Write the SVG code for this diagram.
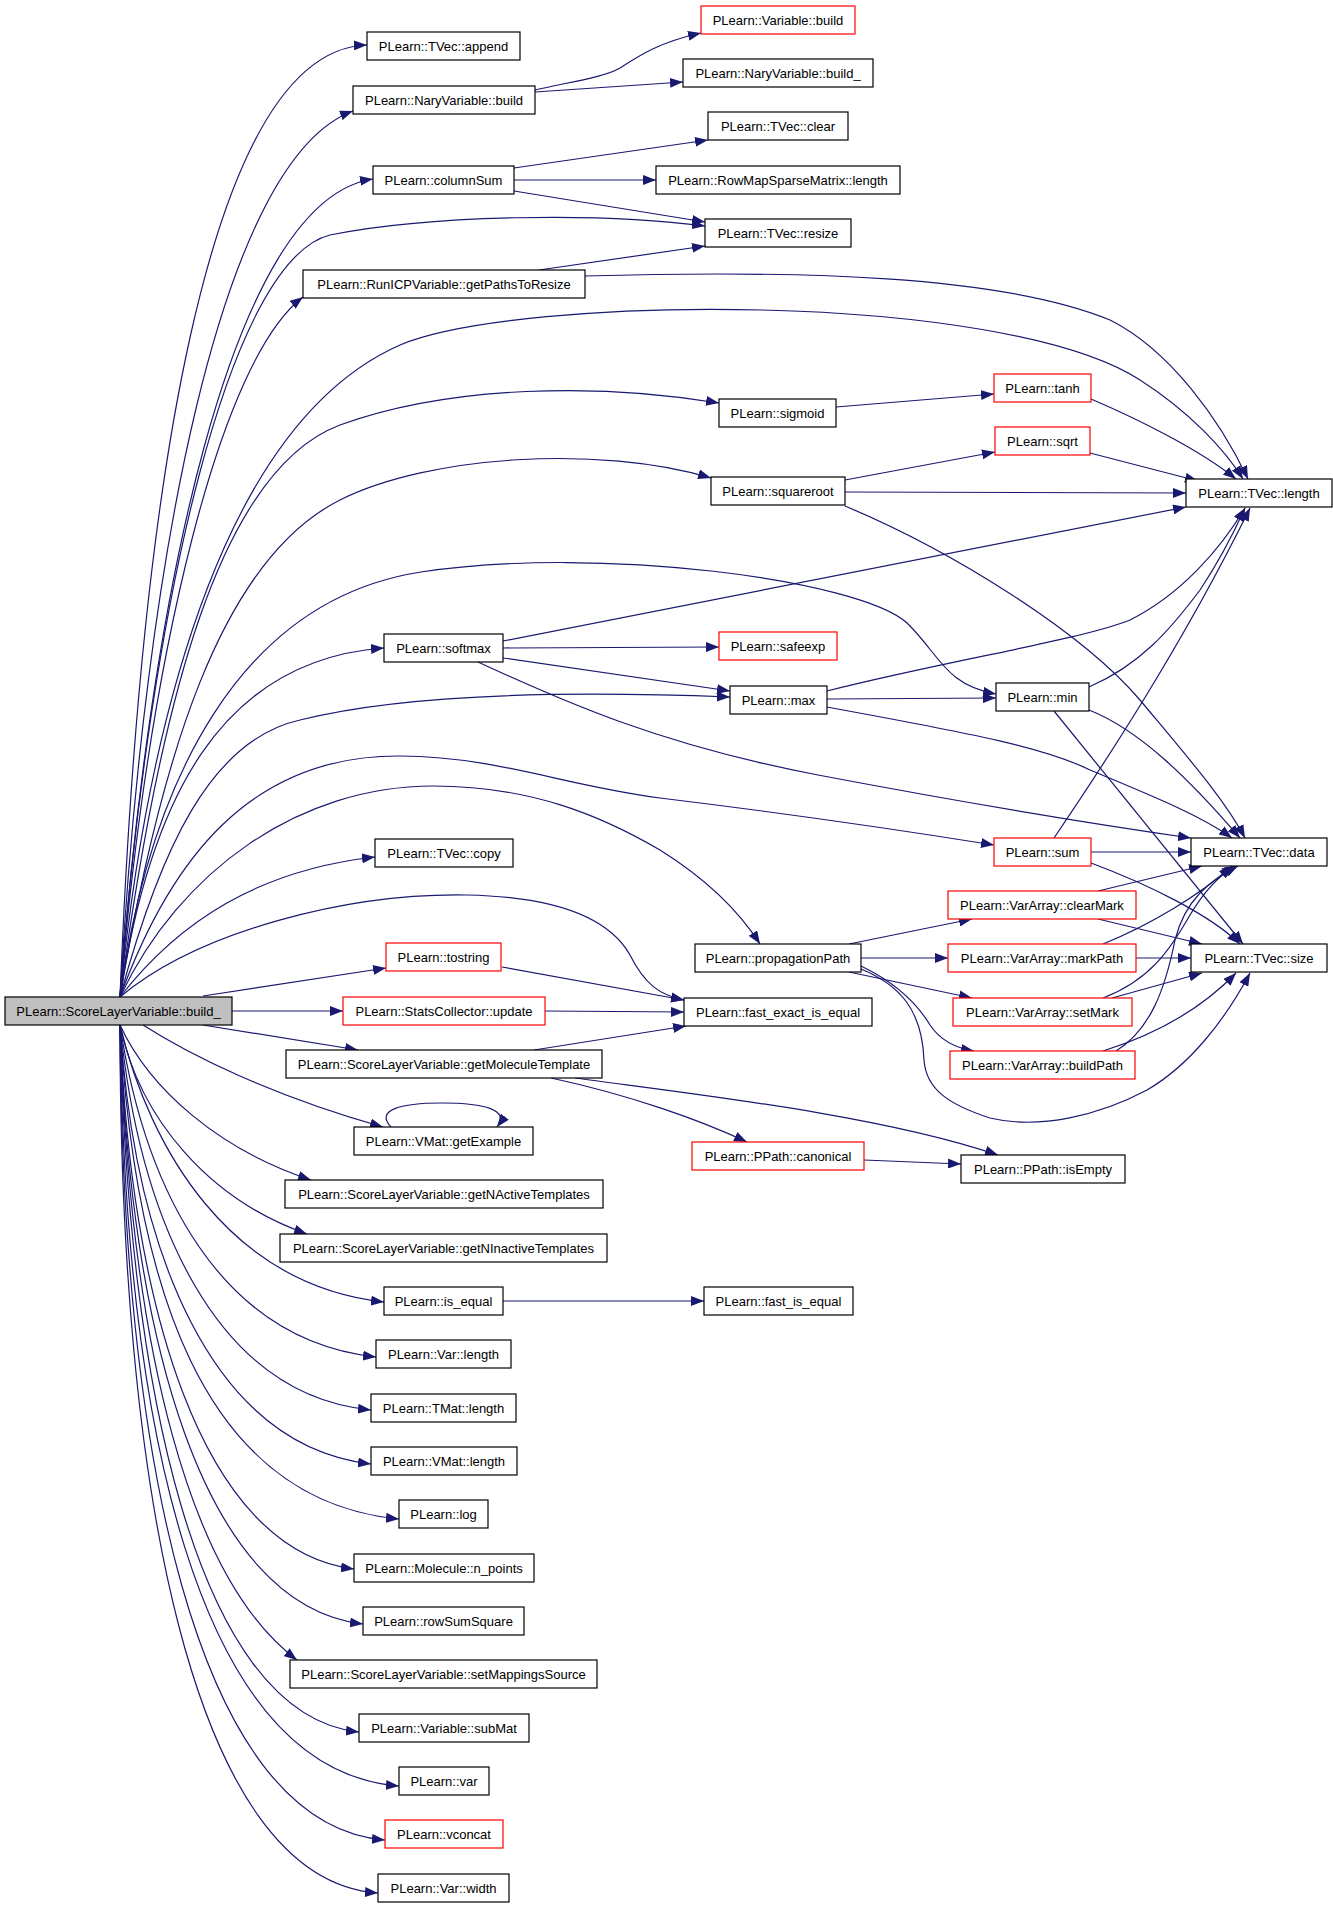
<svg xmlns="http://www.w3.org/2000/svg" width="1333" height="1908" viewBox="0 0 1333 1908">
<style>
.n rect{fill:#fff;stroke:#000;stroke-width:1.2}
.n.r rect{stroke:#f00}
.n.root rect{fill:#bfbfbf}
text{font-family:"Liberation Sans",Arial,sans-serif;font-size:13px;text-anchor:middle;fill:#000}
.e path{fill:none;stroke:#191970;stroke-width:1.2;marker-end:url(#a)}
</style>
<defs>
<marker id="a" markerUnits="userSpaceOnUse" markerWidth="14" markerHeight="10" refX="13" refY="5" orient="auto" viewBox="0 0 14 10"><path d="M0,0 L13,5 L0,10 z" fill="#191970"/></marker>
</defs>
<rect width="1333" height="1908" fill="#fff"/>
<g class="e" id="edges">
<path d="M120,997 C140,500 205,50 367,45"/>
<path d="M120,997 C145,560 220,160 353,111"/>
<path d="M120,997 C150,600 230,200 373,179"/>
<path d="M120,997 C150,600 230,260 330,235 C430,215 600,212 705,226"/>
<path d="M120,997 C150,650 220,360 303,297"/>
<path d="M120,997 C150,700 230,420 400,345 C520,295 1000,290 1140,380 C1190,412 1225,450 1243,479"/>
<path d="M120,997 C160,700 220,470 340,425 C450,385 600,383 719,403"/>
<path d="M120,997 C160,760 220,560 340,500 C430,455 600,445 711,478"/>
<path d="M120,997 C150,800 220,660 384,648"/>
<path d="M120,997 C150,780 240,600 421,572 C600,545 860,580 907,623 C940,655 945,685 996,694"/>
<path d="M120,997 C160,850 210,740 300,720 C400,695 550,690 730,697"/>
<path d="M120,997 C170,860 250,755 400,756 C500,757 560,785 660,798 C800,815 900,830 994,845"/>
<path d="M120,997 C180,870 300,786 433,786 C530,786 600,815 660,850 C700,875 735,905 760,944"/>
<path d="M120,997 C200,930 350,893 467,895 C560,897 610,920 630,955 C645,985 660,995 684,1000"/>
<path d="M120,997 C180,920 260,870 375,857"/>
<path d="M203,996 L386,968"/>
<path d="M232,1011 L343,1011"/>
<path d="M203,1025 L358,1050"/>
<path d="M143,1025 C190,1055 270,1095 383,1127"/>
<path d="M120,1025 C150,1090 220,1150 311,1180"/>
<path d="M120,1025 C140,1120 210,1200 307,1234"/>
<path d="M120,1025 C150,1150 230,1285 384,1302"/>
<path d="M120,1025 C145,1190 220,1340 376,1357"/>
<path d="M120,1025 C140,1220 215,1395 371,1410"/>
<path d="M120,1025 C135,1250 210,1445 371,1464"/>
<path d="M120,1025 C135,1280 200,1500 399,1519"/>
<path d="M120,1025 C130,1300 200,1550 354,1569"/>
<path d="M120,1025 C130,1330 200,1605 363,1624"/>
<path d="M120,1025 C130,1350 190,1580 297,1660"/>
<path d="M120,1025 C128,1380 195,1715 359,1732"/>
<path d="M120,1025 C125,1420 195,1770 399,1786"/>
<path d="M120,1025 C122,1450 195,1825 385,1840"/>
<path d="M120,1025 C120,1480 190,1880 378,1893"/>
<path d="M535,90 C570,82 605,77 620,68 C640,55 660,42 701,33"/>
<path d="M535,92 L683,82"/>
<path d="M514,168 L708,140"/>
<path d="M514,180 L656,180"/>
<path d="M514,191 L705,222"/>
<path d="M539,270 L705,246"/>
<path d="M585,276 C800,270 1000,275 1110,320 C1170,350 1220,420 1248,479"/>
<path d="M836,407 L994,394"/>
<path d="M1091,399 C1140,420 1200,450 1236,479"/>
<path d="M845,480 L995,452"/>
<path d="M1090,453 L1198,481"/>
<path d="M845,492 L1186,493"/>
<path d="M845,506 C950,550 1080,630 1140,700 C1190,760 1225,800 1245,838"/>
<path d="M503,641 L1186,507"/>
<path d="M503,648 L719,647"/>
<path d="M503,658 L730,691"/>
<path d="M478,662 C560,700 660,745 818,775 C950,800 1100,825 1191,838"/>
<path d="M827,691 C950,660 1080,640 1130,620 C1180,595 1220,550 1245,508"/>
<path d="M827,699 L996,698"/>
<path d="M827,707 C950,730 1040,745 1090,770 C1150,795 1200,815 1232,838"/>
<path d="M1089,687 C1140,665 1170,630 1200,590 C1220,560 1235,530 1245,508"/>
<path d="M1089,710 C1140,730 1190,780 1240,838"/>
<path d="M1054,711 L1243,944"/>
<path d="M1054,838 C1100,770 1180,650 1250,508"/>
<path d="M1091,852 L1191,852"/>
<path d="M1091,863 C1150,885 1210,915 1240,944"/>
<path d="M1098,891 L1202,866"/>
<path d="M1098,919 L1202,944"/>
<path d="M849,944 L972,919"/>
<path d="M861,958 L948,958"/>
<path d="M849,972 L972,998"/>
<path d="M861,966 C890,980 915,1000 930,1025 C940,1040 955,1048 974,1051"/>
<path d="M861,969 C900,985 922,1010 924,1060 C926,1090 950,1105 990,1118 C1040,1130 1100,1115 1147,1090 C1190,1065 1225,1020 1250,973"/>
<path d="M1136,958 L1191,958"/>
<path d="M1103,944 C1150,925 1200,895 1232,866"/>
<path d="M1103,998 C1150,980 1170,950 1190,915 C1205,890 1220,875 1235,866"/>
<path d="M1112,998 L1202,973"/>
<path d="M1116,1051 C1150,1030 1165,990 1175,940 C1185,900 1210,880 1238,866"/>
<path d="M1103,1051 C1170,1030 1210,1000 1236,973"/>
<path d="M534,1050 L686,1026"/>
<path d="M551,1078 C630,1095 700,1120 747,1142"/>
<path d="M575,1078 C700,1095 880,1115 998,1155"/>
<path d="M864,1160 L961,1164"/>
<path d="M502,967 L684,1000"/>
<path d="M545,1011 L684,1012"/>
<path d="M391,1127 C375,1110 400,1103 442,1103 C485,1103 510,1110 497,1127"/>
<path d="M503,1301 L704,1301"/>
</g>
<g id="root" class="n root"><rect x="5" y="997" width="227" height="28"/><text x="118.5" y="1015.5">PLearn::ScoreLayerVariable::build_</text></g>
<g id="append" class="n"><rect x="367" y="32" width="153" height="28"/><text x="443.5" y="50.5">PLearn::TVec::append</text></g>
<g id="narybuild" class="n"><rect x="353" y="86" width="182" height="28"/><text x="444" y="104.5">PLearn::NaryVariable::build</text></g>
<g id="varbuild" class="n r"><rect x="701" y="6" width="154" height="28"/><text x="778" y="24.5">PLearn::Variable::build</text></g>
<g id="narybuild_" class="n"><rect x="683" y="59" width="190" height="28"/><text x="778" y="77.5">PLearn::NaryVariable::build_</text></g>
<g id="clear" class="n"><rect x="708" y="112" width="140" height="28"/><text x="778" y="130.5">PLearn::TVec::clear</text></g>
<g id="columnsum" class="n"><rect x="373" y="166" width="141" height="28"/><text x="443.5" y="184.5">PLearn::columnSum</text></g>
<g id="rowmap" class="n"><rect x="656" y="166" width="244" height="28"/><text x="778" y="184.5">PLearn::RowMapSparseMatrix::length</text></g>
<g id="resize" class="n"><rect x="705" y="219" width="146" height="28"/><text x="778" y="237.5">PLearn::TVec::resize</text></g>
<g id="runicp" class="n"><rect x="303" y="270" width="282" height="28"/><text x="444" y="288.5">PLearn::RunICPVariable::getPathsToResize</text></g>
<g id="tanh" class="n r"><rect x="994" y="374" width="97" height="28"/><text x="1042.5" y="392.5">PLearn::tanh</text></g>
<g id="sigmoid" class="n"><rect x="719" y="399" width="117" height="28"/><text x="777.5" y="417.5">PLearn::sigmoid</text></g>
<g id="sqrt" class="n r"><rect x="995" y="427" width="95" height="28"/><text x="1042.5" y="445.5">PLearn::sqrt</text></g>
<g id="squareroot" class="n"><rect x="711" y="477" width="134" height="28"/><text x="778" y="495.5">PLearn::squareroot</text></g>
<g id="tveclength" class="n"><rect x="1186" y="479" width="146" height="28"/><text x="1259" y="497.5">PLearn::TVec::length</text></g>
<g id="softmax" class="n"><rect x="384" y="634" width="119" height="28"/><text x="443.5" y="652.5">PLearn::softmax</text></g>
<g id="safeexp" class="n r"><rect x="719" y="632" width="118" height="28"/><text x="778" y="650.5">PLearn::safeexp</text></g>
<g id="max" class="n"><rect x="730" y="686" width="97" height="28"/><text x="778.5" y="704.5">PLearn::max</text></g>
<g id="min" class="n"><rect x="996" y="683" width="93" height="28"/><text x="1042.5" y="701.5">PLearn::min</text></g>
<g id="sum" class="n r"><rect x="994" y="838" width="97" height="28"/><text x="1042.5" y="856.5">PLearn::sum</text></g>
<g id="tvecdata" class="n"><rect x="1191" y="838" width="136" height="28"/><text x="1259" y="856.5">PLearn::TVec::data</text></g>
<g id="copy" class="n"><rect x="375" y="839" width="138" height="28"/><text x="444" y="857.5">PLearn::TVec::copy</text></g>
<g id="clearmark" class="n r"><rect x="948" y="891" width="188" height="28"/><text x="1042" y="909.5">PLearn::VarArray::clearMark</text></g>
<g id="tostring" class="n r"><rect x="386" y="943" width="115" height="28"/><text x="443.5" y="961.5">PLearn::tostring</text></g>
<g id="propagationpath" class="n"><rect x="695" y="944" width="166" height="28"/><text x="778" y="962.5">PLearn::propagationPath</text></g>
<g id="markpath" class="n r"><rect x="948" y="944" width="188" height="28"/><text x="1042" y="962.5">PLearn::VarArray::markPath</text></g>
<g id="tvecsize" class="n"><rect x="1191" y="944" width="136" height="28"/><text x="1259" y="962.5">PLearn::TVec::size</text></g>
<g id="update" class="n r"><rect x="343" y="997" width="202" height="28"/><text x="444" y="1015.5">PLearn::StatsCollector::update</text></g>
<g id="fastexact" class="n"><rect x="684" y="998" width="188" height="28"/><text x="778" y="1016.5">PLearn::fast_exact_is_equal</text></g>
<g id="setmark" class="n r"><rect x="953" y="998" width="179" height="28"/><text x="1042.5" y="1016.5">PLearn::VarArray::setMark</text></g>
<g id="getmolecule" class="n"><rect x="286" y="1050" width="316" height="28"/><text x="444" y="1068.5">PLearn::ScoreLayerVariable::getMoleculeTemplate</text></g>
<g id="buildpath" class="n r"><rect x="950" y="1051" width="185" height="28"/><text x="1042.5" y="1069.5">PLearn::VarArray::buildPath</text></g>
<g id="getexample" class="n"><rect x="354" y="1127" width="179" height="28"/><text x="443.5" y="1145.5">PLearn::VMat::getExample</text></g>
<g id="canonical" class="n r"><rect x="692" y="1142" width="172" height="28"/><text x="778" y="1160.5">PLearn::PPath::canonical</text></g>
<g id="isempty" class="n"><rect x="961" y="1155" width="164" height="28"/><text x="1043" y="1173.5">PLearn::PPath::isEmpty</text></g>
<g id="getnactive" class="n"><rect x="285" y="1180" width="318" height="28"/><text x="444" y="1198.5">PLearn::ScoreLayerVariable::getNActiveTemplates</text></g>
<g id="getninactive" class="n"><rect x="280" y="1234" width="327" height="28"/><text x="443.5" y="1252.5">PLearn::ScoreLayerVariable::getNInactiveTemplates</text></g>
<g id="isequal" class="n"><rect x="384" y="1287" width="119" height="28"/><text x="443.5" y="1305.5">PLearn::is_equal</text></g>
<g id="fastisequal" class="n"><rect x="704" y="1287" width="149" height="28"/><text x="778.5" y="1305.5">PLearn::fast_is_equal</text></g>
<g id="varlength" class="n"><rect x="376" y="1340" width="135" height="28"/><text x="443.5" y="1358.5">PLearn::Var::length</text></g>
<g id="tmatlength" class="n"><rect x="371" y="1394" width="145" height="28"/><text x="443.5" y="1412.5">PLearn::TMat::length</text></g>
<g id="vmatlength" class="n"><rect x="371" y="1447" width="146" height="28"/><text x="444" y="1465.5">PLearn::VMat::length</text></g>
<g id="log" class="n"><rect x="399" y="1500" width="89" height="28"/><text x="443.5" y="1518.5">PLearn::log</text></g>
<g id="npoints" class="n"><rect x="354" y="1554" width="180" height="28"/><text x="444" y="1572.5">PLearn::Molecule::n_points</text></g>
<g id="rowsumsquare" class="n"><rect x="363" y="1607" width="161" height="28"/><text x="443.5" y="1625.5">PLearn::rowSumSquare</text></g>
<g id="setmappings" class="n"><rect x="290" y="1660" width="307" height="28"/><text x="443.5" y="1678.5">PLearn::ScoreLayerVariable::setMappingsSource</text></g>
<g id="submat" class="n"><rect x="359" y="1714" width="170" height="28"/><text x="444" y="1732.5">PLearn::Variable::subMat</text></g>
<g id="var" class="n"><rect x="399" y="1767" width="90" height="28"/><text x="444" y="1785.5">PLearn::var</text></g>
<g id="vconcat" class="n r"><rect x="385" y="1820" width="118" height="28"/><text x="444" y="1838.5">PLearn::vconcat</text></g>
<g id="varwidth" class="n"><rect x="378" y="1874" width="131" height="28"/><text x="443.5" y="1892.5">PLearn::Var::width</text></g>
</svg>
